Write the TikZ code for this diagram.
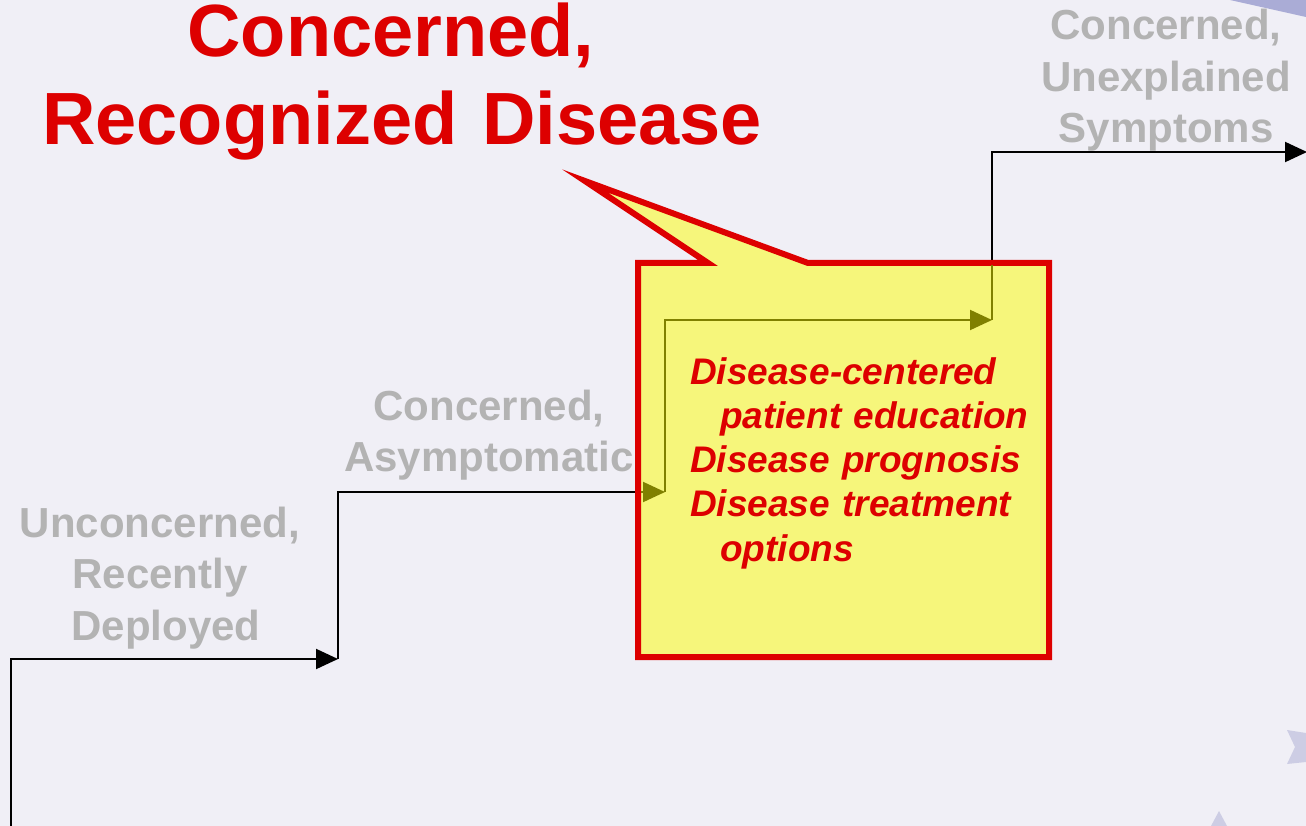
\documentclass[tikz,border=0pt]{standalone}
\usepackage{fontspec}
\setmainfont{Liberation Sans}
\usetikzlibrary{arrows.meta}
\definecolor{bg}{HTML}{F0EFF6}
\definecolor{alertred}{HTML}{DD0000}
\definecolor{stagegray}{HTML}{B3B3B3}
\definecolor{notefill}{HTML}{F6F67B}
\definecolor{olivepath}{HTML}{808000}
\definecolor{starlight}{HTML}{CDCDE4}
\definecolor{stardark}{HTML}{AAACD6}
\begin{document}
\begin{tikzpicture}[x=1pt,y=-1pt,
  stage/.style={text=stagegray, font=\fontsize{42}{51.5}\selectfont\bfseries,
    align=center, text width=330pt, inner sep=0pt, anchor=base},
  steparrow/.style={line width=2pt, -{Triangle[length=22pt,width=20pt]}},
  notebox/.style={draw=alertred, line width=6pt, fill=notefill, line join=miter},
  notetext/.style={text=alertred, font=\fontsize{37}{44.3}\selectfont\bfseries\itshape,
    align=left, text width=360pt, inner sep=0pt, anchor=base west},
  title/.style={text=alertred, font=\fontsize{74}{88}\selectfont\bfseries,
    align=center, text width=900pt, inner sep=0pt, anchor=base}]
  % canvas
  \useasboundingbox (0,0) rectangle (1306,826);
  \fill[bg] (0,0) rectangle (1306,826);
  % decorative star points at the edges
  \fill[stardark] (1230,0) -- (1306,0) -- (1306,17) -- cycle;
  \fill[starlight] (1287,730) -- (1306,733) -- (1306,762) -- (1287,764) -- (1295,747) -- cycle;
  \fill[starlight] (1211,826) -- (1219,811) -- (1227,826) -- cycle;

  % stage labels
  \node[stage] (unconcerned) at (160,537) {Unconcerned,\\Recently\\\hspace*{12pt}Deployed};
  \node[stage] (asymptomatic) at (489,420) {Concerned,\\Asymptomatic};
  \node[stage] (unexplained) at (1166,40) {Concerned,\\Unexplained\\Symptoms};

  % staircase of stages
  \coordinate (s0) at (11,830);
  \coordinate (c1) at (11,659);
  \coordinate (s1) at (338,659);
  \coordinate (c2) at (338,492);
  \coordinate (s2) at (665,492);
  \coordinate (c3) at (665,320);
  \coordinate (s3) at (992,320);
  \coordinate (c4) at (992,152);
  \coordinate (s4) at (1307,152);
  \draw[steparrow] (s0) -- (c1) -- (s1);
  \draw[steparrow] (s1) -- (c2) -- (s2);
  \draw[steparrow] (s2) -- (c3) -- (s3);
  \draw[steparrow] (s3) -- (c4) -- (s4);

  % callout
  \draw[notebox] (638,263) -- (708,263) -- (585,181) -- (808,263) -- (1049,263)
    -- (1049,657) -- (638,657) -- cycle;

  % staircase seen through the callout
  \begin{scope}
    \clip (641,266) rectangle (1046,654);
    \draw[steparrow, olivepath] (s1) -- (c2) -- (s2);
    \draw[steparrow, olivepath] (s2) -- (c3) -- (s3);
    \draw[steparrow, olivepath] (s3) -- (c4) -- (s4);
  \end{scope}

  \node[notetext] (topics) at (690,384) {Disease-centered\\
    \hspace*{30pt}patient education\\
    Disease prognosis\\
    Disease treatment\\
    \hspace*{30pt}options};

  % heading
  \node[title] (heading) at (402,57) {Concerned,\rule{22pt}{0pt}\\Recognized Disease};
\end{tikzpicture}
\end{document}
